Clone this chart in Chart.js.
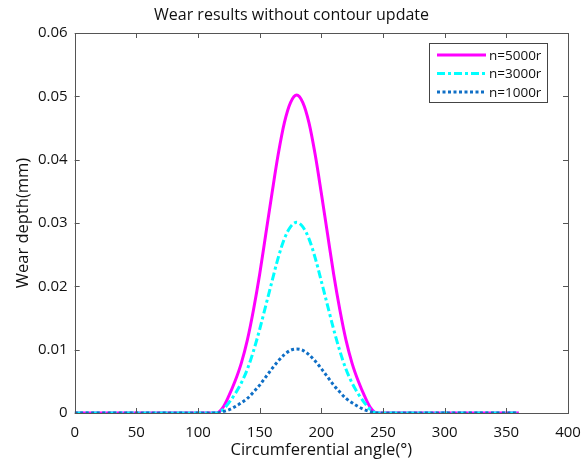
<!DOCTYPE html>
<html>
<head>
<meta charset="utf-8">
<script src="https://cdn.jsdelivr.net/npm/chart.js@4"></script>
<style>
  html, body { margin: 0; padding: 0; background: #fff; }
  #wrap { width: 585px; height: 460px; }
</style>
</head>
<body>
<div id="wrap"><canvas id="wearChart" width="585" height="460"></canvas></div>
<script>

// circumferential angle (deg)
const angles = [0, 115, 120, 125, 130, 135, 140, 145, 150, 155, 160, 165, 170, 175,
	180, 185, 190, 195, 200, 205, 210, 215, 220, 225, 230, 235, 240, 245, 360];

// wear depth (mm)
const wear5000 = [0, 0, 0.0008, 0.0027, 0.0050, 0.0078, 0.0115, 0.0163, 0.0219, 0.0283, 0.0347, 0.0408, 0.0458, 0.0490,
	0.0502, 0.0490, 0.0458, 0.0408, 0.0347, 0.0283, 0.0219, 0.0163, 0.0115, 0.0078, 0.0050, 0.0027, 0.0008, 0, 0];
const wear3000 = [0, 0, 0.0005, 0.0016, 0.0030, 0.0047, 0.0069, 0.0098, 0.0132, 0.0170, 0.0208, 0.0245, 0.0275, 0.0294,
	0.0301, 0.0294, 0.0275, 0.0245, 0.0208, 0.0170, 0.0132, 0.0098, 0.0069, 0.0047, 0.0030, 0.0016, 0.0005, 0, 0];
const wear1000 = [0, 0, 0.0002, 0.0005, 0.0010, 0.0016, 0.0023, 0.0033, 0.0044, 0.0057, 0.0070, 0.0082, 0.0092, 0.0099,
	0.0101, 0.0099, 0.0092, 0.0082, 0.0070, 0.0057, 0.0044, 0.0033, 0.0023, 0.0016, 0.0010, 0.0005, 0.0002, 0, 0];

const seriesLabels = ['n=5000r', 'n=3000r', 'n=1000r'];
const xTicks = [0, 50, 100, 150, 200, 250, 300, 350, 400];
const yTicks = [0, 0.01, 0.02, 0.03, 0.04, 0.05, 0.06];

const fontName = '"Open Sans", "Noto Sans", sans-serif';

const toPoints = vals => angles.map((a, i) => ({ x: a, y: vals[i] }));

// box round the plot with inward ticks
const boxPlugin = {
	id: 'boxTicks',
	afterDatasetsDraw(chart) {
		const { ctx, chartArea: a, scales } = chart;
		ctx.save();
		ctx.strokeStyle = '#555';
		ctx.lineWidth = 1;
		ctx.beginPath();
		xTicks.forEach(v => {
			const px = Math.round(scales.x.getPixelForValue(v)) + 0.5;
			ctx.moveTo(px, a.bottom); ctx.lineTo(px, a.bottom - 5);
			ctx.moveTo(px, a.top); ctx.lineTo(px, a.top + 5);
		});
		yTicks.forEach(v => {
			const py = Math.round(scales.y.getPixelForValue(v)) + 0.5;
			ctx.moveTo(a.left, py); ctx.lineTo(a.left + 5, py);
			ctx.moveTo(a.right, py); ctx.lineTo(a.right - 5, py);
		});
		ctx.stroke();
		ctx.strokeRect(Math.round(a.left) + 0.5, Math.round(a.top) + 0.5,
			Math.round(a.right - a.left), Math.round(a.bottom - a.top));
		ctx.restore();
	}
};

// legend box in the top right corner
const legendPlugin = {
	id: 'boxLegend',
	afterDraw(chart) {
		const { ctx, chartArea: a } = chart;
		const bx = a.right - 139, by = a.top + 10, bw = 118, bh = 59;
		ctx.save();
		ctx.fillStyle = '#fff';
		ctx.fillRect(bx, by, bw, bh);
		ctx.strokeStyle = '#444';
		ctx.lineWidth = 1;
		ctx.strokeRect(bx + 0.5, by + 0.5, bw, bh);
		ctx.font = '13.5px ' + fontName;
		ctx.textBaseline = 'middle';
		chart.data.datasets.forEach((ds, i) => {
			const ly = by + 12 + i * 18.5;
			ctx.strokeStyle = ds.borderColor;
			ctx.lineWidth = ds.borderWidth;
			ctx.setLineDash(ds.borderDash || []);
			ctx.beginPath();
			ctx.moveTo(bx + 8, ly);
			ctx.lineTo(bx + 57, ly);
			ctx.stroke();
			ctx.setLineDash([]);
			ctx.fillStyle = '#111';
			ctx.fillText(ds.label, bx + 60, ly + 1);
		});
		ctx.restore();
	}
};

new Chart(document.getElementById('wearChart'), {
	type: 'line',
	data: {
		datasets: [
			{
				label: seriesLabels[0],
				data: toPoints(wear5000),
				borderColor: '#ff00ff',
				borderWidth: 3,
				order: 3
			},
			{
				label: seriesLabels[1],
				data: toPoints(wear3000),
				borderColor: '#00ffff',
				borderWidth: 3,
				borderDash: [8, 3, 3, 3],
				order: 2
			},
			{
				label: seriesLabels[2],
				data: toPoints(wear1000),
				borderColor: '#0f6fc6',
				borderWidth: 3,
				borderDash: [3, 2.5],
				order: 1
			}
		]
	},
	options: {
		responsive: false,
		animation: false,
		layout: { padding: { left: 15, right: 17, top: 7, bottom: 1 } },
		elements: {
			point: { radius: 0 },
			line: { cubicInterpolationMode: 'monotone', borderCapStyle: 'butt' }
		},
		plugins: {
			legend: { display: false },
			tooltip: { enabled: false },
			title: {
				display: true,
				text: 'Wear results without contour update',
				color: '#111',
				font: { family: fontName, size: 16, weight: 'normal', lineHeight: 1 },
				padding: { top: 0, bottom: 10 }
			}
		},
		scales: {
			x: {
				type: 'linear',
				min: 0,
				max: 400,
				afterBuildTicks: axis => { axis.ticks = xTicks.map(v => ({ value: v })); },
				afterFit: axis => { axis.paddingRight = 0; },
				grid: { display: false, drawTicks: false },
				border: { display: false },
				ticks: { color: '#111', font: { family: fontName, size: 15, lineHeight: 1 }, padding: 12, maxRotation: 0 },
				title: {
					display: true,
					text: 'Circumferential angle(°)',
					color: '#111',
					font: { family: fontName, size: 16.5, lineHeight: 1 },
					padding: { top: -9.5, bottom: 0 }
				}
			},
			y: {
				type: 'linear',
				min: 0,
				max: 0.06,
				afterBuildTicks: axis => { axis.ticks = yTicks.map(v => ({ value: v })); },
				grid: { display: false, drawTicks: false },
				border: { display: false },
				ticks: {
					color: '#111',
					font: { family: fontName, size: 15 },
					padding: 7,
					callback: v => String(Math.round(v * 100) / 100)
				},
				title: {
					display: true,
					text: 'Wear depth(mm)',
					color: '#111',
					font: { family: fontName, size: 16.5, lineHeight: 1 },
					padding: { top: 0, bottom: -0.5 }
				}
			}
		}
	},
	plugins: [boxPlugin, legendPlugin]
});
</script>
</body>
</html>
